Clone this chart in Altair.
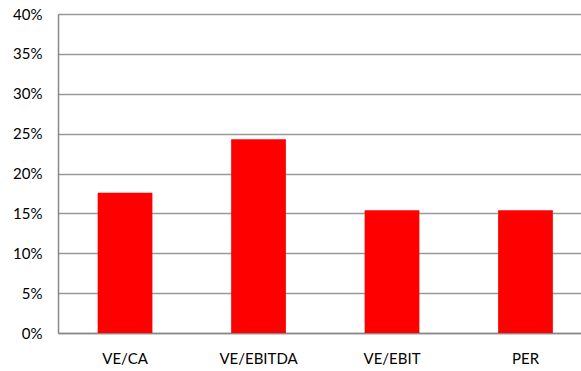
import altair as alt
import pandas as pd

categories = ["VE/CA", "VE/EBITDA", "VE/EBIT", "PER"]
values = [0.176, 0.243, 0.154, 0.154]

df = pd.DataFrame({"cat": categories, "val": values})

font = "Lato"

chart = alt.Chart(df).mark_bar(color="#FF0000").encode(
    x=alt.X("cat:N", sort=categories, title=None,
            scale=alt.Scale(paddingInner=0.59, paddingOuter=0.254, align=0.585),
            axis=alt.Axis(labelAngle=0, ticks=False, labelPadding=18, labelFontSize=15,
                          labelFont=font, labelColor="#000000", domainColor="#888888",
                          domainWidth=1.5, grid=False)),
    y=alt.Y("val:Q", title=None,
            scale=alt.Scale(domain=[0, 0.4], nice=False),
            axis=alt.Axis(format=".0%", values=[0, 0.05, 0.1, 0.15, 0.2, 0.25, 0.3, 0.35, 0.4],
                          ticks=False, labelPadding=16, labelFontSize=15, labelFont=font,
                          labelColor="#000000", domainColor="#888888", domainWidth=1.5,
                          gridColor="#999999", gridWidth=1.3)),
).properties(
    width=523, height=319,
    padding={"left": 58, "top": 14, "right": 0, "bottom": 38},
    autosize=alt.AutoSizeParams(type="none"),
).configure_view(stroke=None).configure(background="white")

chart.save("out.html", embed_options={"renderer": "svg", "actions": False})
